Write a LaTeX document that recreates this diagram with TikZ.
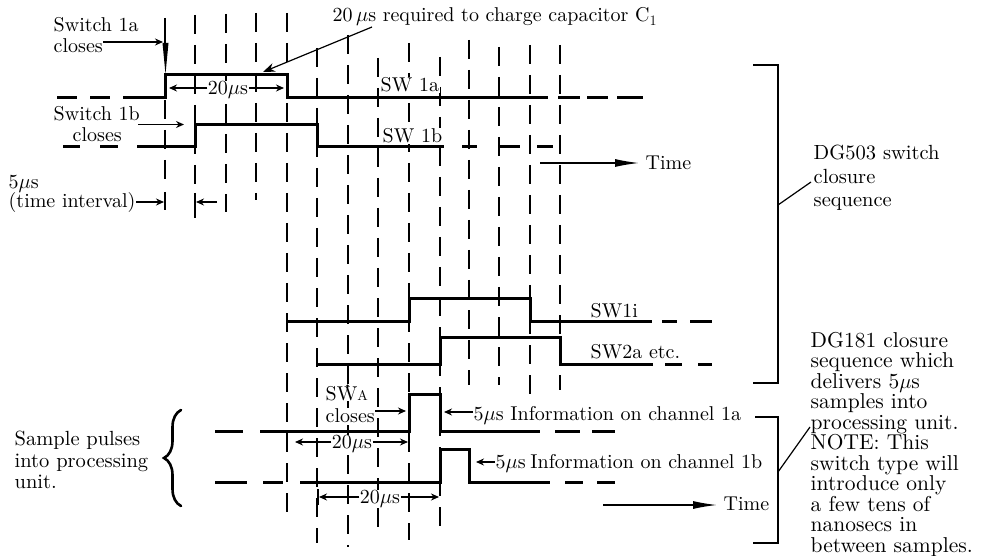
\documentclass[tikz,border=0pt]{standalone}
\usepackage{fontspec}
\setmainfont{lmroman10}[Extension=.otf, UprightFont=*-regular, ItalicFont=*-italic, BoldFont=*-bold]
\usetikzlibrary{arrows.meta,decorations.pathreplacing}
\begin{document}
\begin{tikzpicture}[x=1pt,y=-1pt]
\tikzset{
  gline/.style={line width=1.8pt, dash pattern=on 19pt off 11pt},
  wave/.style={line width=3pt, line join=miter},
  brk/.style={line width=1.6pt},
  lead/.style={line width=1.2pt},
  arr/.style={line width=1.2pt, -{Stealth[length=8pt,width=7pt]}},
  tarr/.style={line width=1.3pt, -{Latex[length=24pt,width=8pt]}},
  txt/.style={inner sep=0.5pt, font=\fontsize{20}{21}\selectfont},
  txtw/.style={txt, fill=white},
  lbl/.style={txtw, text height=13pt, text depth=0pt},
  rtxt/.style={inner sep=0.5pt, font=\fontsize{21.5}{21}\selectfont, anchor=base west},
  mtxt/.style={inner sep=0.5pt, font=\fontsize{20.5}{21}\selectfont, anchor=base west},
}
\useasboundingbox (0,0) rectangle (983,556);

% ---------- vertical dashed time grid ----------
\foreach \x/\a/\b in {165/100/190, 195/15/192, 226/14/212, 256/13/200, 287/13/517,
  317/48/543, 348/35/547, 378/58/530, 409/43/540, 440/57/537, 469/40/385,
  499/47/385, 530/45/398, 560/45/390}
  \draw[gline] (\x,\a) -- (\x,\b);
% solid top of first grid line with wedge arrowhead
\draw[line width=1.8pt] (165,18) -- (165,43);
\fill (162.5,43) -- (168.5,43) -- (165.5,74) -- cycle;
% ticks of the 5 microsecond marker
\draw[line width=1.8pt] (165,192) -- (165,210);
\draw[line width=1.8pt] (195,193) -- (195,218);
\draw[line width=1.8pt] (318,489) -- (318,505);

% ---------- waveforms ----------
% SW 1a
\draw[wave] (57,98) -- (77,98) (90,98) -- (110,98);
\draw[wave] (123,98) -- (165,98) -- (165,75) -- (287,75) -- (287,98) -- (548,98);
\draw[wave] (558,98) -- (580,98) (587,98) -- (608,98) (617,98) -- (643,98);
% SW 1b
\draw[wave] (63,147) -- (80,147) (100,147) -- (118,147);
\draw[wave] (137,147) -- (195,147) -- (195,124.5) -- (317,124.5) -- (317,147) -- (444,147);
\draw[wave] (462,147) -- (477,147) (500,147) -- (520,147) (537,147) -- (553,147);
% SW1i
\draw[wave] (287,321) -- (409,321) -- (409,298) -- (530,298) -- (530,321) -- (652,321);
\draw[wave] (662,321) -- (677,321) (690,321) -- (712,321);
% SW2a
\draw[wave] (318,364) -- (440,364) -- (440,337) -- (560,337) -- (560,364) -- (653,364);
\draw[wave] (665,364) -- (682,364) (698,364) -- (712,364);
% channel 1a sample
\draw[wave] (215,431) -- (243,431);
\draw[wave] (260,431) -- (409,431) -- (409,394) -- (440,394) -- (440,431) -- (540,431);
\draw[wave] (555,431) -- (580,431) (592,431) -- (615,431);
% channel 1b sample
\draw[wave] (215,482) -- (247,482) (263,482) -- (283,482);
\draw[wave] (300,482) -- (440,482) -- (440,449) -- (469,449) -- (469,482) -- (550,482);
\draw[wave] (565,482) -- (583,482) (597,482) -- (615,482);

% ---------- top-left annotations ----------
\node[txt, anchor=base west] (s1a) at (53,32) {Switch 1a};
\node[txt, anchor=base west] (s1ac) at (53,53) {closes};
\coordinate (s1aT) at (163,42);
\draw[arr] (s1ac.east |- s1aT) -- (s1aT);

\node[txt, anchor=base west] (s1b) at (53,120.5) {Switch 1b};
\node[txt, anchor=base west] (s1bc) at (72,141.5) {closes};
\coordinate (s1bS) at (138,124.5);
\coordinate (s1bT) at (184,124.5);
\draw[arr] (s1bS) -- (s1bT);

\node[txt, anchor=base west] (f5) at (8,189) {5$\mu$s};
\node[txt, anchor=base west] (ti) at (8,207.5) {(time interval)};
\coordinate (tiT) at (164,202);
\draw[arr] (ti.east |- tiT) -- (tiT);
\coordinate (tiB) at (196,202);
\coordinate (tiC) at (217,202);
\draw[arr] (tiC) -- (tiB);

\node[lbl] (d20a) at (228,88) {20$\mu$s};
\coordinate (d20aL) at (169,88);
\coordinate (d20aR) at (284,88);
\draw[arr] (d20a) -- (d20aL);
\draw[arr] (d20a) -- (d20aR);

\node[txt, anchor=base west] (cap) at (332,22) {20\,$\mu$s required to charge capacitor C$_1$};
\coordinate (capS) at (372,27);
\coordinate (capT) at (263,72);
\draw[lead, -{Stealth[length=12pt,width=9pt]}] (capS) -- (capT);

\node[txtw, anchor=base west] (l1a) at (380,92) {SW 1a};
\node[txtw, anchor=base west] (l1b) at (382,143) {SW 1b};

\node[txt, anchor=base west] (time1) at (645,170) {Time};
\coordinate (t1S) at (540,163);
\draw[tarr, shorten >=6pt] (t1S) -- (time1.west |- t1S);

\node[txt, anchor=base west] (l1i) at (590,317) {SW1i};
\node[txt, anchor=base west] (l2a) at (590,358) {SW2a etc.};

% ---------- bottom annotations ----------
\node[txtw, anchor=base west] (swa) at (325,400) {SW{\fontsize{14}{14}\selectfont A}};
\fill (swa.north west) ++(22.5,0.5) circle[radius=1.3pt];
\node[txtw, anchor=base west] (swac) at (325,422) {closes};
\coordinate (swaT) at (406,411);
\draw[arr] (swac.east |- swaT) -- (swaT);

\node[txt, anchor=base west] (i1a) at (473,420) {5$\mu$s Information on channel 1a};
\coordinate (i1aT) at (444,412);
\draw[arr] (i1a.west |- i1aT) -- (i1aT);

\node[txt, anchor=base west] (i1b) at (495,468) {5$\mu$s\hspace{-2pt} Information on channel 1b};
\coordinate (i1bT) at (476,462);
\draw[arr] (i1b.west |- i1bT) -- (i1bT);

\node[lbl] (d20b) at (352,442) {20$\mu$s};
\coordinate (d20bL) at (295,442);
\coordinate (d20bR) at (408,442);
\draw[arr] (d20b) -- (d20bL);
\draw[arr] (d20b) -- (d20bR);

\node[lbl] (d20c) at (380,497) {20$\mu$s};
\coordinate (d20cL) at (319,497);
\coordinate (d20cR) at (439,497);
\draw[arr] (d20c) -- (d20cL);
\draw[arr] (d20c) -- (d20cR);

\node[txt, anchor=base west] (time2) at (723,510) {Time};
\coordinate (t2S) at (603,505);
\draw[tarr, shorten >=6pt] (t2S) -- (time2.west |- t2S);

% sample pulses label and brace
\node[mtxt] (sp1) at (14,445) {Sample pulses};
\node[mtxt] (sp2) at (14,467) {into processing};
\node[mtxt] (sp3) at (14,488) {unit.};
\coordinate (brB) at (181,506);
\coordinate (brT) at (181,410);
\draw[line width=2.6pt, line cap=round, decorate, decoration={brace, amplitude=17pt}] (brB) -- (brT);

% ---------- right brackets ----------
\coordinate (b1a) at (753,65);
\coordinate (b1b) at (778,65);
\coordinate (b1c) at (778,383);
\coordinate (b1d) at (753,383);
\draw[brk] (b1a) -- (b1b) -- (b1c) -- (b1d);
\coordinate (b2a) at (755,417);
\coordinate (b2b) at (778,417);
\coordinate (b2c) at (778,543);
\coordinate (b2d) at (753,543);
\draw[brk] (b2a) -- (b2b) -- (b2c) -- (b2d);

\node[mtxt] (g1) at (813,160) {DG503 switch};
\node[mtxt] (g2) at (813,183.5) {closure};
\node[mtxt] (g3) at (813,207) {sequence};
\coordinate (lk1) at (778,205);
\coordinate (lk1e) at (811,182);
\draw[lead] (lk1) -- (lk1e);

\foreach \t [count=\i from 0] in {DG181 closure, sequence which, delivers 5$\mu$s,
  samples into, processing unit., NOTE: This, switch type will, introduce only,
  a few tens of, nanosecs in, between samples.}
  \node[rtxt] (h\i) at (810,347+20.5*\i) {\t};
\coordinate (lk2) at (778,472);
\coordinate (lk2e) at (810,427);
\draw[lead] (lk2) -- (lk2e);
\end{tikzpicture}
\end{document}
